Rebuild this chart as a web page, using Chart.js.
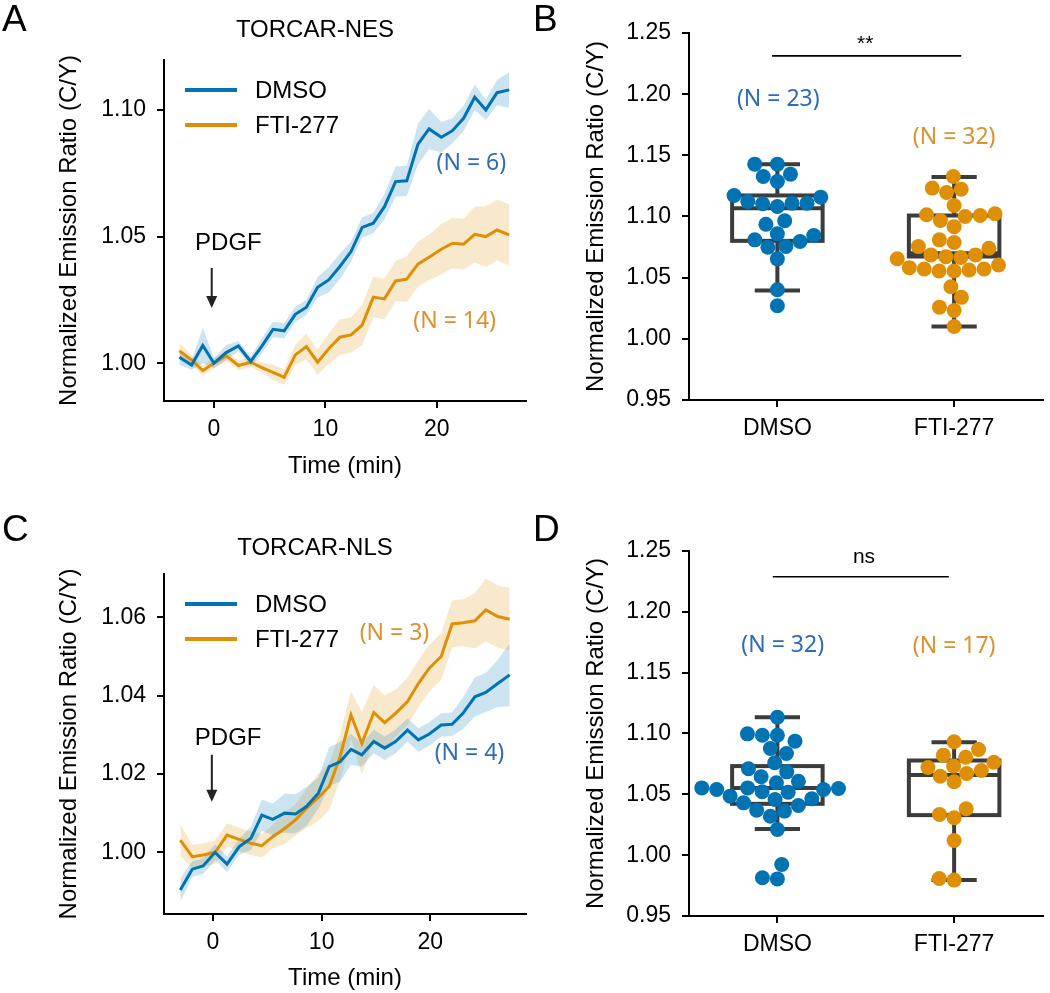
<!DOCTYPE html>
<html>
<head>
<meta charset="utf-8">
<script src="https://cdn.jsdelivr.net/npm/chart.js@4.4.1/dist/chart.umd.min.js"></script>
<style>
  body { margin: 0; background: #fff; }
  #fig { position: relative; width: 1050px; height: 993px; overflow: hidden; font-family: "Liberation Sans", Arial, sans-serif; color: #000; }
  #fig canvas { position: absolute; }
  .tag { position: absolute; font-size: 37px; line-height: 37px; }
  .ttl { position: absolute; font-size: 24px; line-height: 24px; width: 300px; text-align: center; }
</style>
</head>
<body>
<div id="fig">
  <canvas id="chartA" width="530" height="490" style="left:0;top:0"></canvas>
  <canvas id="chartB" width="520" height="490" style="left:530px;top:0"></canvas>
  <canvas id="chartC" width="530" height="503" style="left:0;top:490px"></canvas>
  <canvas id="chartD" width="520" height="503" style="left:530px;top:490px"></canvas>
  <div class="tag" style="left:2px;top:0px">A</div>
  <div class="tag" style="left:533px;top:0px">B</div>
  <div class="tag" style="left:2px;top:510px">C</div>
  <div class="tag" style="left:533px;top:510px">D</div>
  <div class="ttl" style="left:165px;top:17px">TORCAR-NES</div>
  <div class="ttl" style="left:165px;top:535px">TORCAR-NLS</div>
</div>
<script>
const FONT = '"Liberation Sans", Arial, sans-serif';
const NFONT = '"Noto Sans", "Open Sans", sans-serif';
const BLUE = '#0173b2', ORANGE = '#de8f05';
const BLUE_BAND = 'rgba(1,115,178,0.2)', ORANGE_BAND = 'rgba(222,143,5,0.2)';
const BLUE_TXT = '#2d6db4', ORANGE_TXT = '#da922e';
const BOX = '#3c3c3c';

// categories and ticks
const groups = ['DMSO', 'FTI-277'];
const timeTicks = [0, 10, 20];
const ratioTicksA = [1.00, 1.05, 1.10];
const ratioTicksC = [1.00, 1.02, 1.04, 1.06];
const ratioTicksBox = [0.95, 1.00, 1.05, 1.10, 1.15, 1.20, 1.25];

// panel A: TORCAR-NES time course (mean and SEM)
const timeA = [-3.1, -2.0, -1.0, 0.0, 1.1, 2.2, 3.3, 4.3, 5.3, 6.3, 7.3, 8.3, 9.3, 10.3, 11.3,
  12.3, 13.3, 14.3, 15.3, 16.3, 17.3, 18.3, 19.3, 20.4, 21.4, 22.4, 23.4, 24.4, 25.4, 26.5];
const dmsoA = [1.0024, 0.9993, 1.0070, 1.0000, 1.0042, 1.0068, 1.0007, 1.0068, 1.0134, 1.0128,
  1.0193, 1.0221, 1.0300, 1.0329, 1.0382, 1.0441, 1.0536, 1.0553, 1.0618, 1.0717,
  1.0720, 1.0864, 1.0925, 1.0892, 1.0918, 1.0967, 1.1050, 1.1000, 1.1068, 1.1079];
const dmsoSemA = [0.003, 0.002, 0.007, 0.002, 0.003, 0.002, 0.002, 0.003, 0.003, 0.003,
  0.003, 0.003, 0.004, 0.005, 0.005, 0.004, 0.004, 0.004, 0.005, 0.006,
  0.006, 0.008, 0.008, 0.006, 0.005, 0.005, 0.005, 0.004, 0.005, 0.007];
const ftiA = [1.0049, 1.0013, 0.9971, 1.0000, 1.0029, 0.9991, 1.0004, 0.9983, 0.9964, 0.9945,
  1.0033, 1.0066, 1.0004, 1.0057, 1.0103, 1.0112, 1.0151, 1.0261, 1.0254, 1.0325,
  1.0332, 1.0391, 1.0418, 1.0450, 1.0474, 1.0470, 1.0509, 1.0500, 1.0526, 1.0507];
const ftiSemA = [0.003, 0.002, 0.002, 0.002, 0.002, 0.002, 0.002, 0.002, 0.003, 0.003,
  0.004, 0.005, 0.005, 0.006, 0.007, 0.007, 0.008, 0.008, 0.008, 0.008,
  0.009, 0.009, 0.009, 0.010, 0.010, 0.010, 0.011, 0.012, 0.012, 0.012];

// panel C: TORCAR-NLS time course
const timeC = [-3.0, -1.9, -0.9, 0.2, 1.3, 2.4, 3.5, 4.5, 5.5, 6.6, 7.6, 8.6, 9.7, 10.7, 11.7,
  12.7, 13.7, 14.8, 15.8, 16.8, 17.9, 18.9, 19.9, 21.0, 22.0, 23.0, 24.1, 25.1, 26.2, 27.3];
const dmsoC = [0.9904, 0.9957, 0.9965, 1.0000, 0.9970, 1.0014, 1.0036, 1.0095, 1.0084, 1.0100,
  1.0098, 1.0117, 1.0151, 1.0219, 1.0231, 1.0263, 1.0249, 1.0283, 1.0266, 1.0283,
  1.0312, 1.0287, 1.0302, 1.0325, 1.0327, 1.0355, 1.0397, 1.0408, 1.0431, 1.0453];
const dmsoSemC = [0.003, 0.002, 0.002, 0.002, 0.002, 0.002, 0.003, 0.004, 0.004, 0.005,
  0.005, 0.005, 0.004, 0.005, 0.005, 0.004, 0.003, 0.003, 0.003, 0.003,
  0.003, 0.003, 0.003, 0.003, 0.003, 0.004, 0.005, 0.005, 0.006, 0.008];
const ftiC = [1.0031, 0.9989, 0.9993, 1.0000, 1.0044, 1.0033, 1.0023, 1.0017, 1.0040, 1.0061,
  1.0083, 1.0112, 1.0140, 1.0168, 1.0244, 1.0351, 1.0278, 1.0357, 1.0331, 1.0355,
  1.0385, 1.0431, 1.0470, 1.0500, 1.0583, 1.0586, 1.0591, 1.0619, 1.0602, 1.0595];
const ftiSemC = [0.004, 0.003, 0.003, 0.003, 0.003, 0.003, 0.003, 0.003, 0.003, 0.004,
  0.004, 0.005, 0.006, 0.006, 0.006, 0.006, 0.008, 0.007, 0.007, 0.006,
  0.006, 0.006, 0.006, 0.006, 0.006, 0.006, 0.007, 0.008, 0.008, 0.008];

// panel B: per-cell responses, TORCAR-NES
const dmsoB = [1.1428, 1.1428, 1.1327, 1.1346, 1.1286, 1.1172, 1.1123, 1.1104, 1.1158, 1.1082,
  1.1109, 1.1109, 1.0965, 1.0937, 1.0845, 1.0858, 1.0809, 1.0796, 1.0755, 1.0749,
  1.0654, 1.0401, 1.0270];
const ftiB = [1.1327, 1.1223, 1.1196, 1.1232, 1.1090, 1.1014, 1.1008, 1.1022, 1.0967, 1.1000,
  1.0917, 1.0809, 1.0787, 1.0741, 1.0754, 1.0686, 1.0686, 1.0672, 1.0665, 1.0655,
  1.0604, 1.0571, 1.0555, 1.0563, 1.0555, 1.0571, 1.0582, 1.0426, 1.0339, 1.0259,
  1.0232, 1.0101];
// box stats: whisker low, Q1, median, Q3, whisker high
const boxB = [[1.0395, 1.0801, 1.1068, 1.1172, 1.1428], [1.0101, 1.0673, 1.0700, 1.1008, 1.1322]];

// panel D: per-cell responses, TORCAR-NLS
const dmsoD = [1.1134, 1.0986, 1.0986, 1.0997, 1.0937, 1.0877, 1.0836, 1.0759, 1.0710, 1.0685,
  1.0644, 1.0608, 1.0595, 1.0553, 1.0518, 1.0521, 1.0540, 1.0540, 1.0553, 1.0485,
  1.0548, 1.0463, 1.0458, 1.0408, 1.0430, 1.0362, 1.0370, 1.0320, 1.0211, 0.9923,
  0.9814, 0.9805];
const ftiD = [1.0932, 1.0822, 1.0868, 1.0805, 1.0732, 1.0764, 1.0696, 1.0720, 1.0649, 1.0671,
  1.0603, 1.0334, 1.0381, 1.0307, 1.0121, 0.9808, 0.9795];
const boxD = [[1.0216, 1.0422, 1.0553, 1.0732, 1.1134], [0.9795, 1.0329, 1.0658, 1.0778, 1.0929]];

// ---------- plugins ----------
const lineKey = {
  id: 'lineKey',
  afterDraw(chart, args, o) {
    if (!o.show) return;
    const {ctx, chartArea: a} = chart;
    ctx.save();
    ctx.font = '24px ' + FONT;
    ctx.textBaseline = 'middle';
    ctx.fillStyle = '#000';
    chart.data.datasets.filter(d => !d.band).forEach((d, i) => {
      const y = a.top + 30 + i * 35;
      ctx.strokeStyle = d.borderColor;
      ctx.lineWidth = 4;
      ctx.beginPath();
      ctx.moveTo(a.left + 21, y);
      ctx.lineTo(a.left + 73, y);
      ctx.stroke();
      ctx.fillText(d.label, a.left + 91, y + 1);
    });
    ctx.restore();
  }
};

const notes = {
  id: 'notes',
  afterDatasetsDraw(chart, args, o) {
    const {ctx, scales: {x, y}} = chart;
    ctx.save();
    ctx.textAlign = 'center';
    ctx.textBaseline = 'middle';
    (o.texts || []).forEach(n => {
      ctx.font = n.font;
      ctx.fillStyle = n.color || '#000';
      ctx.fillText(n.text, x.getPixelForValue(n.x), y.getPixelForValue(n.y));
    });
    (o.arrows || []).forEach(a => {
      const px = x.getPixelForValue(a.x);
      const y0 = y.getPixelForValue(a.from), y1 = y.getPixelForValue(a.to);
      ctx.strokeStyle = '#222';
      ctx.fillStyle = '#222';
      ctx.lineWidth = 2;
      ctx.beginPath();
      ctx.moveTo(px, y0);
      ctx.lineTo(px, y1 - 10);
      ctx.stroke();
      ctx.beginPath();
      ctx.moveTo(px - 5.5, y1 - 12);
      ctx.lineTo(px + 5.5, y1 - 12);
      ctx.lineTo(px, y1);
      ctx.closePath();
      ctx.fill();
    });
    (o.brackets || []).forEach(b => {
      const py = y.getPixelForValue(b.y);
      ctx.strokeStyle = '#000';
      ctx.lineWidth = 1.6;
      ctx.beginPath();
      ctx.moveTo(x.getPixelForValue(b.x0), py);
      ctx.lineTo(x.getPixelForValue(b.x1), py);
      ctx.stroke();
      ctx.font = '21px ' + FONT;
      ctx.fillStyle = '#000';
      ctx.fillText(b.text, x.getPixelForValue(b.tx), y.getPixelForValue(b.ty));
    });
    ctx.restore();
  }
};

const boxes = {
  id: 'boxes',
  beforeDatasetsDraw(chart, args, o) {
    if (!o.stats) return;
    const {ctx, scales: {x, y}} = chart;
    ctx.save();
    ctx.strokeStyle = BOX;
    ctx.lineWidth = 4;
    o.stats.forEach((s, i) => {
      const cx = x.getPixelForValue(i);
      const hw = x.getPixelForValue(i + 0.256) - cx, cw = hw / 2;
      const [lo, q1, med, q3, hi] = s.map(v => y.getPixelForValue(v));
      ctx.beginPath();
      ctx.moveTo(cx, q1); ctx.lineTo(cx, lo);
      ctx.moveTo(cx, q3); ctx.lineTo(cx, hi);
      ctx.moveTo(cx - cw, lo); ctx.lineTo(cx + cw, lo);
      ctx.moveTo(cx - cw, hi); ctx.lineTo(cx + cw, hi);
      ctx.moveTo(cx - hw, med); ctx.lineTo(cx + hw, med);
      ctx.stroke();
      ctx.strokeRect(cx - hw, q3, 2 * hw, q1 - q3);
    });
    ctx.restore();
  }
};

// ---------- helpers ----------
function tickFont() { return {family: FONT, size: 23}; }

function yAxis(plot, range, ticks, dec, titlePad) {
  return {
    type: 'linear', min: range[0], max: range[1],
    afterBuildTicks: s => { s.ticks = ticks.map(v => ({value: v})); },
    afterFit: s => { s.width = plot.l; },
    border: {display: true, color: '#000', width: 2},
    grid: {display: true, drawOnChartArea: false, drawTicks: true, tickLength: 7, color: '#000', lineWidth: 2},
    ticks: {color: '#000', font: tickFont(), padding: 11, callback: v => Number(v).toFixed(dec)},
    title: {display: true, text: 'Normalized Emission Ratio (C/Y)', color: '#000',
      font: {family: FONT, size: 24, lineHeight: 1.2}, padding: {top: titlePad, bottom: 0}}
  };
}

function xAxis(plot, H, range, ticks, labelFn, title) {
  return {
    type: 'linear', min: range[0], max: range[1],
    afterBuildTicks: s => { s.ticks = ticks.map(v => ({value: v})); },
    afterFit: s => { s.height = H - plot.b; },
    border: {display: true, color: '#000', width: 2},
    grid: {display: true, drawOnChartArea: false, drawTicks: true, tickLength: 7, color: '#000', lineWidth: 2},
    ticks: {color: '#000', font: tickFont(), padding: 8, maxRotation: 0, callback: labelFn},
    title: {display: !!title, text: title || '', color: '#000',
      font: {family: FONT, size: 24, lineHeight: 1.2}, padding: {top: 0, bottom: 0}}
  };
}

function baseOptions(plot, W) {
  return {
    responsive: false, animation: false, devicePixelRatio: 1,
    layout: {padding: {left: 0, top: plot.t, right: W - plot.r, bottom: 0}},
    events: []
  };
}

function lineChart(id, W, H, plot, t, m1, s1, m2, s2, xr, yr, yTicks, noteOpts, xTitlePadBottom) {
  const pts = arr => arr.map((v, i) => ({x: t[i], y: v}));
  const band = (m, s, sign) => pts(m.map((v, i) => v + sign * s[i]));
  const opts = baseOptions(plot, W);
  opts.scales = {
    x: xAxis(plot, H, xr, timeTicks, v => String(v), 'Time (min)'),
    y: yAxis(plot, yr, yTicks, 2, 55)
  };
  opts.scales.x.title.padding = {top: 0, bottom: xTitlePadBottom};
  opts.plugins = {legend: {display: false}, tooltip: {enabled: false}, lineKey: {show: true}, notes: noteOpts};
  return new Chart(document.getElementById(id), {
    type: 'line',
    data: {datasets: [
      {label: groups[0], data: pts(m1), borderColor: BLUE, borderWidth: 3, pointRadius: 0, fill: false, tension: 0},
      {label: groups[1], data: pts(m2), borderColor: ORANGE, borderWidth: 3, pointRadius: 0, fill: false, tension: 0},
      {band: true, data: band(m1, s1, 1), borderColor: 'transparent', borderWidth: 0, pointRadius: 0, fill: '+1', backgroundColor: BLUE_BAND},
      {band: true, data: band(m1, s1, -1), borderColor: 'transparent', borderWidth: 0, pointRadius: 0, fill: false},
      {band: true, data: band(m2, s2, 1), borderColor: 'transparent', borderWidth: 0, pointRadius: 0, fill: '+1', backgroundColor: ORANGE_BAND},
      {band: true, data: band(m2, s2, -1), borderColor: 'transparent', borderWidth: 0, pointRadius: 0, fill: false}
    ]},
    options: opts,
    plugins: [lineKey, notes]
  });
}

// beeswarm layout done in pixel space, then mapped back through the x scale
function swarm(chart) {
  const xs = chart.scales.x, ys = chart.scales.y;
  const d = 15;
  const unit = xs.getPixelForValue(1) - xs.getPixelForValue(0);
  chart.data.datasets.forEach((ds, k) => {
    const vals = ds.data.map(p => p.y);
    const order = vals.map((v, i) => i).sort((a, b) => vals[a] - vals[b]);
    const placed = [];
    order.forEach(i => {
      const py = ys.getPixelForValue(vals[i]);
      const near = placed.filter(p => Math.abs(p.y - py) < d).reverse();
      const cand = [0];
      let leftFirst = true;
      near.forEach(p => {
        const dx = Math.sqrt(Math.max(d * d - (py - p.y) ** 2, 0));
        const l = p.x - dx, r = p.x + dx;
        if (leftFirst) cand.push(l, r); else cand.push(r, l);
        leftFirst = !leftFirst;
      });
      const sorted = cand.map((c, j) => [c, j]).sort((a, b) => (Math.abs(a[0]) - Math.abs(b[0])) || (a[1] - b[1]));
      let px = 0;
      for (const [c] of sorted) {
        if (near.every(p => Math.hypot(p.x - c, p.y - py) >= d - 0.01)) { px = c; break; }
      }
      placed.push({x: px, y: py});
      ds.data[i].x = k + px / unit;
    });
  });
  chart.update('none');
}

function boxChart(id, W, H, plot, v1, v2, stats, noteOpts) {
  const opts = baseOptions(plot, W);
  opts.scales = {
    x: xAxis(plot, H, [-0.5, 1.5], [0, 1], v => groups[v], ''),
    y: yAxis(plot, [0.95, 1.25], ratioTicksBox, 2, 52)
  };
  opts.plugins = {legend: {display: false}, tooltip: {enabled: false}, boxes: {stats: stats}, notes: noteOpts};
  const pt = (vals, k) => vals.map(v => ({x: k, y: v}));
  const chart = new Chart(document.getElementById(id), {
    type: 'scatter',
    data: {datasets: [
      {label: groups[0], data: pt(v1, 0), backgroundColor: BLUE, borderColor: BLUE, pointRadius: 7.5, borderWidth: 0},
      {label: groups[1], data: pt(v2, 1), backgroundColor: ORANGE, borderColor: ORANGE, pointRadius: 7.5, borderWidth: 0}
    ]},
    options: opts,
    plugins: [boxes, notes]
  });
  swarm(chart);
  return chart;
}

const NF = '23px ' + NFONT;
const PF = '24px ' + FONT;

lineChart('chartA', 530, 490, {l: 164, t: 60, r: 526, b: 401}, timeA, dmsoA, dmsoSemA, ftiA, ftiSemA,
  [-4.48, 28.0], [0.9851, 1.1197], ratioTicksA, {
    texts: [
      {text: '(N = 6)', x: 23.1, y: 1.0789, color: BLUE_TXT, font: NF},
      {text: '(N = 14)', x: 21.6, y: 1.0164, color: ORANGE_TXT, font: NF},
      {text: 'PDGF', x: 1.3, y: 1.0474, font: PF}
    ],
    arrows: [{x: -0.2, from: 1.0376, to: 1.0218}]
  }, 9);

lineChart('chartC', 530, 503, {l: 164, t: 84, r: 526, b: 424}, timeC, dmsoC, dmsoSemC, ftiC, ftiSemC,
  [-4.5, 28.8], [0.98425, 1.07106], ratioTicksC, {
    texts: [
      {text: '(N = 3)', x: 16.7, y: 1.0559, color: ORANGE_TXT, font: NF},
      {text: '(N = 4)', x: 23.6, y: 1.0253, color: BLUE_TXT, font: NF},
      {text: 'PDGF', x: 1.4, y: 1.0291, font: PF}
    ],
    arrows: [{x: -0.1, from: 1.0249, to: 1.0129}]
  }, 0);

boxChart('chartB', 520, 490, {l: 159, t: 33, r: 518, b: 400}, dmsoB, ftiB, boxB, {
  texts: [
    {text: '(N = 23)', x: 0.005, y: 1.196, color: BLUE_TXT, font: NF},
    {text: '(N = 32)', x: 1.0, y: 1.1643, color: ORANGE_TXT, font: NF}
  ],
  brackets: [{x0: -0.03, x1: 1.04, y: 1.2313, text: '**', tx: 0.497, ty: 1.241}]
});

boxChart('chartD', 520, 503, {l: 159, t: 61, r: 518, b: 426}, dmsoD, ftiD, boxD, {
  texts: [
    {text: '(N = 32)', x: 0.03, y: 1.1722, color: BLUE_TXT, font: NF},
    {text: '(N = 17)', x: 1.0, y: 1.1717, color: ORANGE_TXT, font: NF}
  ],
  brackets: [{x0: -0.026, x1: 0.97, y: 1.2288, text: 'ns', tx: 0.49, ty: 1.2447}]
});
</script>
</body>
</html>
